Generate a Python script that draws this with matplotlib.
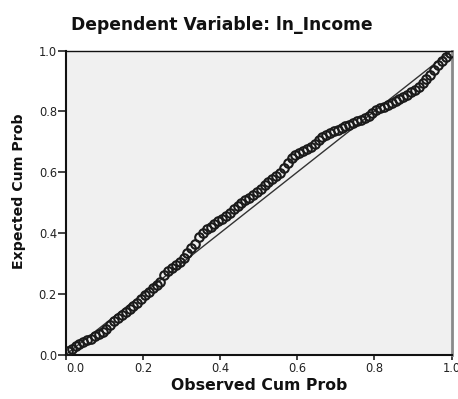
import matplotlib
matplotlib.use("Agg")
import matplotlib.pyplot as plt

# Observed cumulative probability (x) and expected cumulative probability (y)
observed_cum_prob = [
    0.005, 0.015, 0.025, 0.035, 0.045, 0.055, 0.065, 0.075, 0.085, 0.095,
    0.105, 0.115, 0.125, 0.135, 0.145, 0.155, 0.165, 0.175, 0.185, 0.195,
    0.205, 0.215, 0.225, 0.235, 0.245, 0.255, 0.265, 0.275, 0.285, 0.295,
    0.305, 0.315, 0.325, 0.335, 0.345, 0.355, 0.365, 0.375, 0.385, 0.395,
    0.405, 0.415, 0.425, 0.435, 0.445, 0.455, 0.465, 0.475, 0.485, 0.495,
    0.505, 0.515, 0.525, 0.535, 0.545, 0.555, 0.565, 0.575, 0.585, 0.595,
    0.605, 0.615, 0.625, 0.635, 0.645, 0.655, 0.665, 0.675, 0.685, 0.695,
    0.705, 0.715, 0.725, 0.735, 0.745, 0.755, 0.765, 0.775, 0.785, 0.795,
    0.805, 0.815, 0.825, 0.835, 0.845, 0.855, 0.865, 0.875, 0.885, 0.895,
    0.905, 0.915, 0.925, 0.935, 0.945, 0.955, 0.965, 0.975, 0.985, 0.995,
]
expected_cum_prob = [
    0.010, 0.018, 0.028, 0.035, 0.042, 0.047, 0.052, 0.060, 0.068, 0.075,
    0.085, 0.097, 0.110, 0.121, 0.131, 0.140, 0.150, 0.160, 0.170, 0.182,
    0.195, 0.207, 0.218, 0.228, 0.240, 0.262, 0.275, 0.284, 0.294, 0.305,
    0.318, 0.335, 0.350, 0.365, 0.385, 0.400, 0.413, 0.420, 0.428, 0.438,
    0.447, 0.456, 0.466, 0.478, 0.490, 0.500, 0.508, 0.516, 0.525, 0.535,
    0.545, 0.556, 0.568, 0.578, 0.588, 0.598, 0.612, 0.630, 0.648, 0.656,
    0.662, 0.669, 0.676, 0.684, 0.694, 0.705, 0.714, 0.722, 0.728, 0.734,
    0.740, 0.746, 0.751, 0.756, 0.762, 0.767, 0.772, 0.778, 0.786, 0.795,
    0.805, 0.811, 0.815, 0.820, 0.826, 0.833, 0.840, 0.846, 0.854, 0.862,
    0.870, 0.879, 0.892, 0.906, 0.920, 0.936, 0.952, 0.965, 0.978, 0.992,
]
tick_values = [0.0, 0.2, 0.4, 0.6, 0.8, 1.0]
tick_labels = ["0.0", "0.2", "0.4", "0.6", "0.8", "1.0"]

title_text = "Dependent Variable: ln_Income"
x_label = "Observed Cum Prob"
y_label = "Expected Cum Prob"

plt.rcParams["font.family"] = ["DejaVu Sans"]

fig = plt.figure(figsize=(4.58, 3.99), dpi=100)
ax = fig.add_axes([66 / 458, 1 - 354.5 / 399, (451.5 - 66) / 458, (354.5 - 50.5) / 399])
ax.set_facecolor("#f0f0f0")

ax.plot([0, 1], [0, 1], color="#333333", lw=1.0, zorder=2)
ax.plot(observed_cum_prob, expected_cum_prob, linestyle="none", marker="o",
        markersize=6.2, markerfacecolor="none", markeredgecolor="#1a1a1a",
        markeredgewidth=1.5, zorder=3)

ax.set_xlim(0, 1)
ax.set_ylim(0, 1)
ax.set_xticks(tick_values)
ax.set_xticklabels(tick_labels)
ax.set_yticks(tick_values)
ax.set_yticklabels(tick_labels)
ax.tick_params(axis="x", direction="out", length=3.5, width=1.2, pad=2,
               labelsize=8.3, colors="#222222")
ax.tick_params(axis="y", direction="out", length=5.5, width=1.2, pad=1,
               labelsize=8.3, colors="#222222")
ax.get_xticklabels()[0].set_horizontalalignment("left")

for side in ["left", "bottom"]:
    ax.spines[side].set_color("#111111")
    ax.spines[side].set_linewidth(1.5)
ax.spines["top"].set_color("#111111")
ax.spines["top"].set_linewidth(1.0)
ax.spines["right"].set_color("#8a8a8a")
ax.spines["right"].set_linewidth(2.0)

fig.text(221.5 / 458, 1 - 30 / 399, title_text, ha="center", va="baseline",
         fontsize=12.3, fontweight="bold", color="#111111")
fig.text(258.7 / 458, 1 - 390 / 399, x_label, ha="center", va="baseline",
         fontsize=11.3, fontweight="bold", color="#111111")
fig.text(19 / 458, 1 - 191 / 399, y_label, ha="center", va="center",
         rotation=90, fontsize=10.2, fontweight="bold", color="#111111")

fig.savefig("out.png", dpi=100)
